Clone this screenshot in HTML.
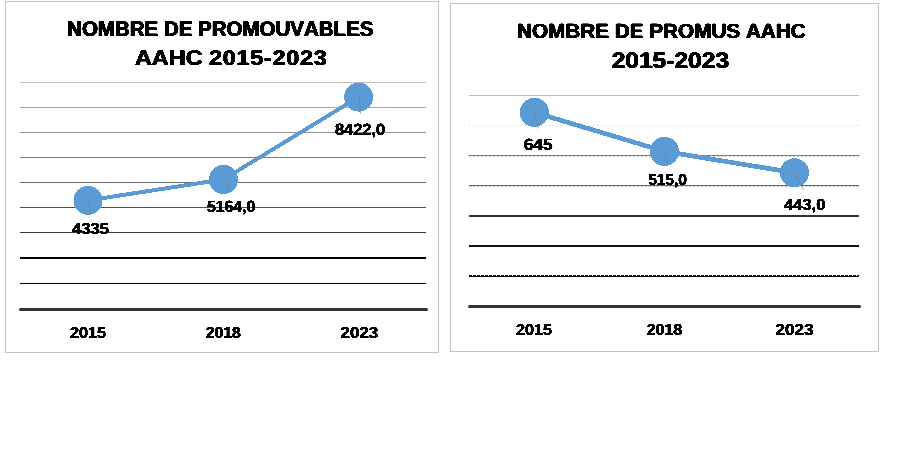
<!DOCTYPE html>
<html lang="fr">
<head>
<meta charset="utf-8">
<title>Nombre de promouvables et de promus AAHC 2015-2023</title>
<style>
html,body{margin:0;padding:0;background:#fff;}
body{width:912px;height:460px;overflow:hidden;}
svg{display:block;}
text{font-family:"Liberation Sans",Arial,Helvetica,sans-serif;font-weight:bold;fill:#000;font-kerning:none;text-rendering:geometricPrecision;}
</style>
</head>
<body>
<svg width="912" height="460" viewBox="0 0 912 460">
<defs>
<filter id="fb" filterUnits="userSpaceOnUse" x="0" y="0" width="912" height="460" color-interpolation-filters="sRGB">
<feOffset in="SourceGraphic" dx="1" dy="0" result="o"/>
<feMerge result="m"><feMergeNode in="SourceGraphic"/><feMergeNode in="o"/></feMerge>
<feComponentTransfer in="m"><feFuncA type="linear" slope="6" intercept="-2.0"/></feComponentTransfer>
</filter>
<filter id="fs" filterUnits="userSpaceOnUse" x="0" y="0" width="912" height="460" color-interpolation-filters="sRGB">
<feOffset in="SourceGraphic" dx="1" dy="0" result="o"/>
<feMerge result="m"><feMergeNode in="SourceGraphic"/><feMergeNode in="o"/></feMerge>
<feComponentTransfer in="m"><feFuncA type="linear" slope="6" intercept="-2.8"/></feComponentTransfer>
</filter>
</defs>
<rect x="0" y="0" width="912" height="460" fill="#ffffff"/>

<g id="left">
<rect x="5.5" y="1.5" width="433" height="351" fill="#fff" stroke="#c3c3c3" stroke-width="1" shape-rendering="crispEdges"/>
<rect x="20" y="82" width="406" height="1" fill="#bdbdbd"/>
<rect x="20" y="107" width="406" height="1" fill="#a8a8a8"/>
<rect x="20" y="132" width="406" height="1" fill="#929292"/>
<rect x="20" y="157" width="406" height="1" fill="#7c7c7c"/>
<rect x="20" y="182" width="406" height="1" fill="#666"/>
<rect x="20" y="207" width="406" height="1" fill="#505050"/>
<rect x="20" y="232" width="406" height="1" fill="#3a3a3a"/>
<rect x="20" y="257" width="406" height="2" fill="#000"/>
<rect x="20" y="283" width="406" height="1" fill="#000"/>
<rect x="19" y="308" width="409" height="3" rx="1.5" fill="#333"/>
<polyline points="88,200.4 223.5,179.4 358.6,97.1" fill="none" stroke="#5b9bd5" stroke-width="4" stroke-linejoin="round" shape-rendering="crispEdges"/>
<circle cx="88" cy="200.4" r="14.5" fill="#5b9bd5" shape-rendering="crispEdges"/>
<circle cx="223.5" cy="179.4" r="14.5" fill="#5b9bd5" shape-rendering="crispEdges"/>
<circle cx="358.6" cy="97.1" r="14.5" fill="#5b9bd5" shape-rendering="crispEdges"/>
<line x1="87.5" y1="200" x2="90.5" y2="214.5" stroke="#7f7f7f" stroke-width="0.8"/>
<line x1="223" y1="179" x2="231" y2="190.6" stroke="#7f7f7f" stroke-width="0.8"/>
<line x1="359.5" y1="97" x2="360.5" y2="113.5" stroke="#7f7f7f" stroke-width="0.8"/>
<g filter="url(#fb)">
<text transform="translate(66.57 36) scale(0.9627 1)" font-size="21.30">NOMBRE DE PROMOUVABLES</text>
<text transform="translate(134.41 65) scale(1.1000 1)" font-size="21.30">AAHC <tspan letter-spacing="0.64">2015-2023</tspan></text>
</g>
<g filter="url(#fs)">
<text transform="translate(71.65 234) scale(1.0350 1)" font-size="16.00">4335</text>
<text transform="translate(206.43 212) scale(0.9567 1)" font-size="16.50">5164,0</text>
<text transform="translate(334.41 135) scale(0.9932 1)" font-size="16.50">8422,0</text>
<text transform="translate(69.43 338) scale(1.0127 1)" font-size="16.00">2015</text>
<text transform="translate(205.15 338) scale(0.9896 1)" font-size="16.00">2018</text>
<text transform="translate(340.11 338) scale(1.0586 1)" font-size="16.00">2023</text>
</g>
</g>
<g id="right">
<rect x="450.5" y="3.5" width="428" height="348" fill="#fff" stroke="#c3c3c3" stroke-width="1" shape-rendering="crispEdges"/>
<rect x="469" y="95" width="390" height="1" fill="#bdbdbd"/>
<line x1="469" y1="125.5" x2="859" y2="125.5" stroke="#c8c8c8" stroke-width="1" stroke-dasharray="1 3"/>
<rect x="469" y="155" width="390" height="1" fill="#808080"/>
<line x1="469" y1="156.5" x2="859" y2="156.5" stroke="#c6c6c6" stroke-width="1" stroke-dasharray="2 2"/>
<rect x="469" y="185" width="390" height="1" fill="#666"/>
<line x1="469" y1="186.5" x2="859" y2="186.5" stroke="#bcbcbc" stroke-width="1" stroke-dasharray="2 2"/>
<rect x="469" y="215" width="390" height="2" fill="#333"/>
<rect x="469" y="245" width="390" height="2" fill="#111"/>
<line x1="469" y1="275.5" x2="859" y2="275.5" stroke="#111" stroke-width="1" stroke-dasharray="3 1"/>
<rect x="469" y="276" width="390" height="1" fill="#000"/>
<rect x="468" y="305" width="393" height="3" rx="1.5" fill="#333"/>
<polyline points="534.3,112.3 664.4,151.4 794.5,172.8" fill="none" stroke="#5b9bd5" stroke-width="4.7" stroke-linejoin="round" shape-rendering="crispEdges"/>
<circle cx="534.3" cy="112.3" r="14.5" fill="#5b9bd5" shape-rendering="crispEdges"/>
<circle cx="664.4" cy="151.4" r="14.5" fill="#5b9bd5" shape-rendering="crispEdges"/>
<circle cx="794.5" cy="172.8" r="14.5" fill="#5b9bd5" shape-rendering="crispEdges"/>
<line x1="534.3" y1="112.5" x2="538.3" y2="128.5" stroke="#7f7f7f" stroke-width="0.8"/>
<line x1="664.5" y1="151" x2="668" y2="164.5" stroke="#7f7f7f" stroke-width="0.8"/>
<line x1="794" y1="173" x2="803.5" y2="189.5" stroke="#7f7f7f" stroke-width="0.8"/>
<g filter="url(#fb)">
<text transform="translate(516.55 38) scale(1.0052 1)" font-size="20.60">NOMBRE DE PROMUS AAHC</text>
<text transform="translate(611.14 68) scale(1.0869 1)" font-size="22.60">2015-2023</text>
</g>
<g filter="url(#fs)">
<text transform="translate(523.30 150) scale(1.0422 1)" font-size="16.50">645</text>
<text transform="translate(647.64 185) scale(0.9671 1)" font-size="16.00">515,0</text>
<text transform="translate(783.65 210) scale(1.0276 1)" font-size="16.00">443,0</text>
<text transform="translate(515.54 335) scale(1.0069 1)" font-size="16.00">2015</text>
<text transform="translate(646.14 335) scale(0.9925 1)" font-size="16.00">2018</text>
<text transform="translate(775.10 335) scale(1.0644 1)" font-size="16.00">2023</text>
</g>
</g>
</svg>
</body>
</html>
